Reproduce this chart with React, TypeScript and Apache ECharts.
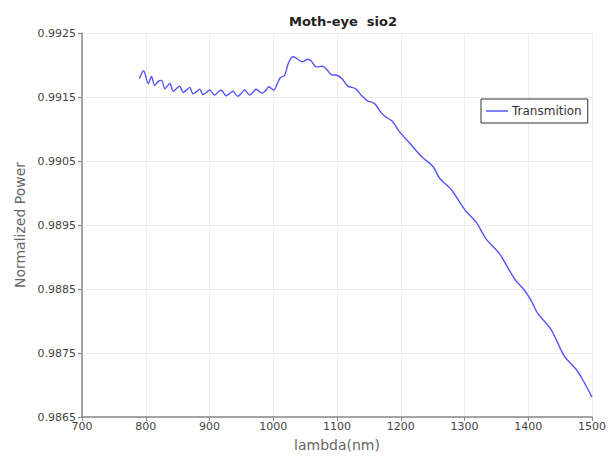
import React, { useEffect, useRef } from "react";
import * as echarts from "echarts";

const lambdaNm = [
  790, 796.6, 804, 809, 814, 819, 824.8, 830, 837.8, 843, 848, 853.4, 858.6, 864, 869, 874, 879,
  884.7, 889.8, 895, 900.3, 908, 913, 918.4, 926, 931, 936.7, 944.5, 950, 955, 962.8, 968, 973,
  982.5, 988, 993, 1000.8, 1006, 1011, 1018, 1023, 1030.5, 1035.6, 1045, 1054.4, 1059.7, 1067.5,
  1077.3, 1084, 1091, 1099.7, 1107.5, 1117, 1129, 1138.8, 1148, 1158.6, 1169, 1175, 1186.7, 1197,
  1206.5, 1214, 1232.5, 1250.8, 1261, 1279.4, 1300.3, 1318.5, 1334, 1355, 1378.4, 1394, 1404,
  1414.8, 1435.6, 1456.6, 1474.7, 1485, 1500,
];

const power = [
  0.99179, 0.99191, 0.99171, 0.99182, 0.99168, 0.99174, 0.99176, 0.99163, 0.99171, 0.99159,
  0.99163, 0.99167, 0.99157, 0.99161, 0.99165, 0.99155, 0.99158, 0.99162, 0.99154, 0.99157,
  0.99161, 0.99153, 0.99157, 0.99161, 0.99152, 0.99155, 0.99159, 0.99151, 0.99156, 0.99161,
  0.99153, 0.99157, 0.99162, 0.99156, 0.9916, 0.99166, 0.99161, 0.9917, 0.9918, 0.99184, 0.99201,
  0.99213, 0.99211, 0.99205, 0.99209, 0.99206, 0.99197, 0.99198, 0.99193, 0.99185, 0.99184,
  0.99179, 0.99167, 0.99163, 0.99152, 0.99144, 0.9914, 0.99126, 0.9912, 0.99112, 0.99097,
  0.99086, 0.99078, 0.99057, 0.99041, 0.99023, 0.99005, 0.98974, 0.98954, 0.98928, 0.98905,
  0.98866, 0.98848, 0.98833, 0.98812, 0.98787, 0.98745, 0.98725, 0.98709, 0.98681,
];

const seriesName = "Transmition";
const chartTitle = "Moth-eye  sio2";
const xName = "lambda(nm)";
const yName = "Normalized Power";

export default function App() {
  const ref = useRef<HTMLDivElement>(null);
  useEffect(() => {
    document.documentElement.style.margin = "0";
    document.documentElement.style.overflow = "hidden";
    document.body.style.margin = "0";
    document.body.style.overflow = "hidden";
    if (!ref.current) return;
    const chart = echarts.init(ref.current, null, { renderer: "svg", width: 609, height: 457 });
    const font = "DejaVu Sans";
    chart.setOption({
      animation: false,
      backgroundColor: "#fff",
      textStyle: { fontFamily: font },
      title: {
        text: chartTitle,
        left: 338,
        top: 10,
        textAlign: "center",
        textStyle: { fontFamily: font, fontSize: 13, fontWeight: "bold", color: "#222" },
      },
      legend: {
        left: 481,
        top: 99,
        orient: "vertical",
        padding: [5, 6, 5, 5],
        borderColor: "#333",
        borderWidth: 1,
        borderRadius: 0,
        backgroundColor: "#fff",
        icon: "rect",
        itemWidth: 22,
        itemHeight: 1.5,
        itemGap: 4,
        textStyle: { fontFamily: font, fontSize: 12, color: "#333", padding: [0, 0, 0, -1], lineHeight: 14 },
        data: [seriesName],
      },
      grid: { left: 82, right: 14, top: 33, bottom: 35, containLabel: false },
      xAxis: {
        type: "value",
        min: 700,
        max: 1500,
        interval: 100,
        name: xName,
        nameLocation: "middle",
        nameGap: 21,
        nameTextStyle: { fontFamily: font, fontSize: 14, color: "#666" },
        axisLine: { show: true, lineStyle: { color: "#888", width: 1.5 } },
        axisTick: { show: true, length: 4, lineStyle: { color: "#888" } },
        axisLabel: {
          fontFamily: font,
          fontSize: 11,
          color: "#444",
          margin: 4,
          formatter: (v: number) => String(v),
        },
        splitLine: { show: true, lineStyle: { color: "#eeeeee", width: 1 } },
      },
      yAxis: {
        type: "value",
        min: 0.9865,
        max: 0.9925,
        interval: 0.001,
        name: yName,
        nameLocation: "middle",
        nameGap: 54,
        nameTextStyle: { fontFamily: font, fontSize: 14, color: "#666" },
        axisLine: { show: true, lineStyle: { color: "#888", width: 1.5 } },
        axisTick: { show: true, length: 4, lineStyle: { color: "#888" } },
        axisLabel: {
          fontFamily: font,
          fontSize: 11,
          color: "#444",
          margin: 6,
          formatter: (v: number) => v.toFixed(4),
        },
        splitLine: { show: true, lineStyle: { color: "#eeeeee", width: 1 } },
      },
      series: [
        {
          name: seriesName,
          type: "line",
          data: lambdaNm.map((x, i) => [x, power[i]]),
          symbol: "none",
          smooth: 0.3,
          lineStyle: { color: "#5555ff", width: 1.4 },
          itemStyle: { color: "#5555ff" },
        },
      ],
    });
    return () => chart.dispose();
  }, []);
  return (
    <div
      ref={ref}
      style={{ position: "fixed", left: 0, top: 0, width: 609, height: 457, background: "#fff" }}
    />
  );
}
